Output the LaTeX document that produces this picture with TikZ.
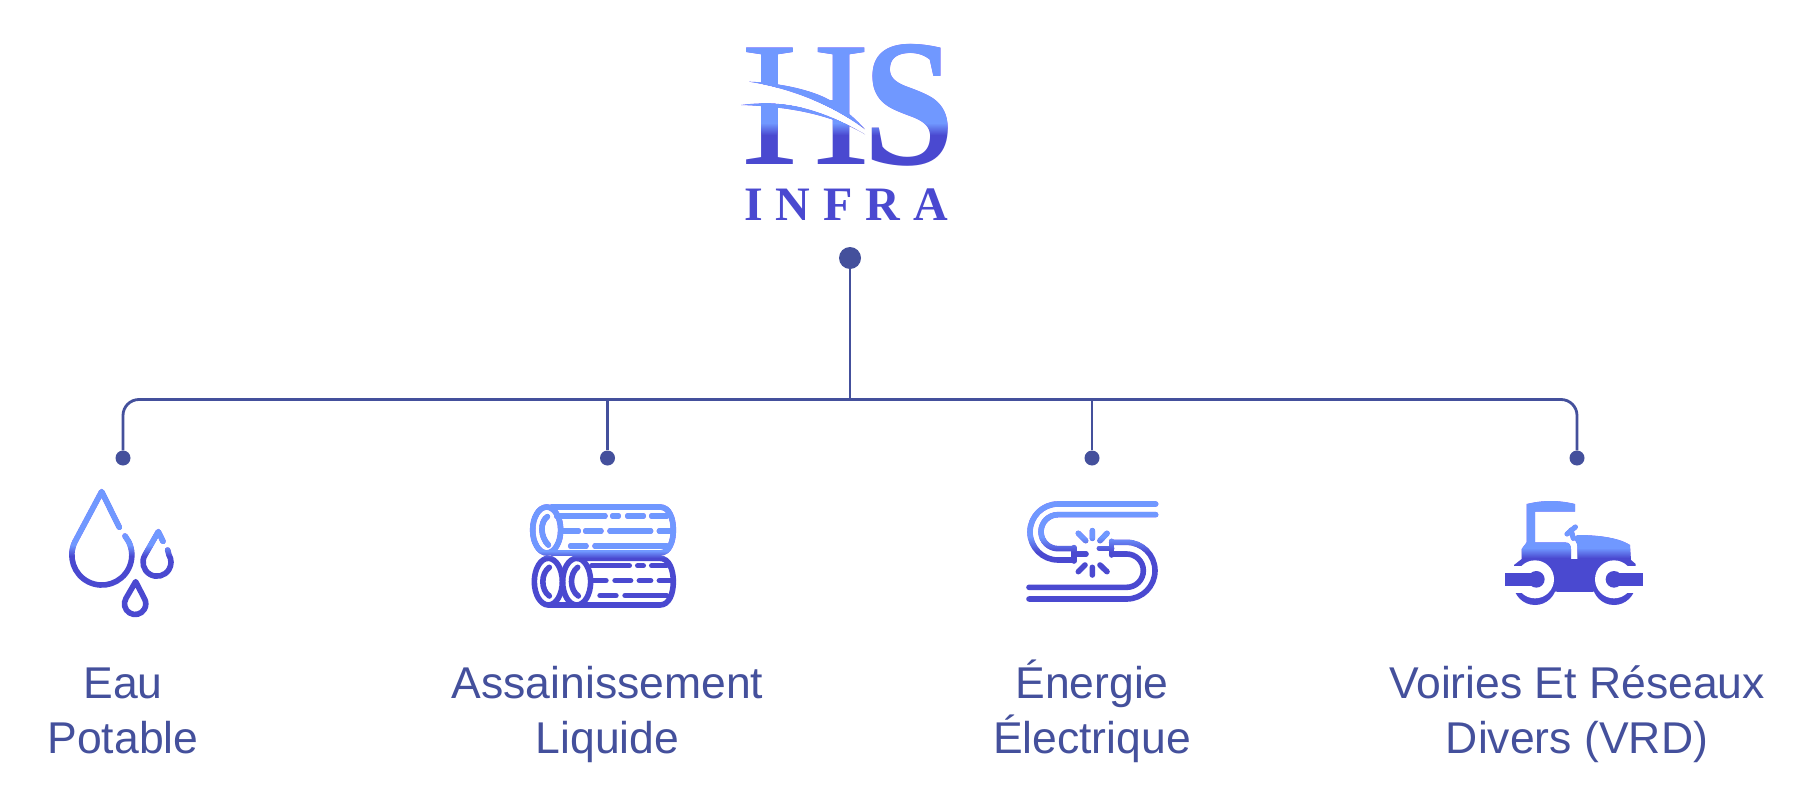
\documentclass[tikz,border=0pt]{standalone}
\usepackage{fontspec}
\setmainfont{Liberation Sans}
\newfontfamily\logoreg{Liberation Serif}
\newfontfamily\logobold{Liberation Serif}[BoldFont={Liberation Serif Bold},LetterSpace=27]
\definecolor{gradA}{HTML}{7098FF}
\definecolor{gradB}{HTML}{4A49D0}
\definecolor{inkblue}{HTML}{44509C}
\colorlet{curcol}{gradB}
\tikzset{
  dotnode/.style={circle,fill=inkblue,draw=none,inner sep=0pt},
  link/.style={draw=inkblue,line width=2.8pt},
  caption/.style={text=inkblue,align=center,inner sep=0pt,font=\fontsize{44.5}{55}\selectfont},
  iconline/.style={draw=curcol,line width=5.6pt,line cap=round,line join=round},
  dashline/.style={draw=curcol,line width=5.4pt,line cap=round},
  zoomed/.style={x=0.33333pt,y=-0.33333pt}
}
% light colour laid over the dark drawing: only what is darker than the overlay changes
\newcommand{\gradoverlay}[5]{%
  \begin{scope}[blend mode=lighten]
    \fill[gradA] (#1,#2) rectangle (#3,#4);
    \shade[top color=gradA,bottom color=gradB] (#1,#4) rectangle (#3,#5);
  \end{scope}
}
\begin{document}
\begin{tikzpicture}[x=1pt,y=-1pt]
  \useasboundingbox (0,0) rectangle (1800,800);
  \fill[white] (0,0) rectangle (1800,800);
  % logo
  \node[anchor=base west,inner sep=0pt,text=curcol] (logoH) at (741,164.5) {\logoreg\fontsize{178}{178}\selectfont H};
  \node[anchor=base west,inner sep=0pt,text=curcol] (logoS) at (863,164.5) {\logoreg\bfseries\fontsize{178}{178}\selectfont\scalebox{.927}[1.02]{S}};
  \begin{scope}[shift={(735,70)},zoomed]
    \fill[white] (18,105) -- (42,35) .. controls (200,60) and (320,125) .. (390,178) -- (390,193) .. controls (230,100) and (120,92) .. (18,105) -- cycle;
    \fill[curcol] (42,35) .. controls (130,38) and (240,60) .. (295,97) .. controls (330,118) and (365,150) .. (390,178) .. controls (320,125) and (200,60) .. (42,35) -- cycle;
    \fill[curcol] (18,105) .. controls (120,92) and (230,100) .. (390,193) .. controls (300,140) and (180,110) .. (18,105) -- cycle;
  \end{scope}
  \gradoverlay{735}{30}{960}{123}{135}
  \node[anchor=base west,inner sep=0pt,text=gradB] (infra) at (744,220) {\logobold\bfseries\fontsize{48}{48}\selectfont INFRA};
  % tree
  \node[dotnode,minimum size=22pt] (root) at (850,258) {};
  \coordinate (hub) at (850,399.5);
  \node[dotnode,minimum size=15pt] (d1) at (123,458) {};
  \node[dotnode,minimum size=15pt] (d2) at (607.5,458) {};
  \node[dotnode,minimum size=15pt] (d3) at (1092,458) {};
  \node[dotnode,minimum size=15pt] (d4) at (1577,458) {};
  \draw[link] (root) -- (hub);
  \draw[link,rounded corners=16pt] (d1) -- (d1|-hub) -- (d4|-hub) -- (d4);
  \draw[link] (d2) -- (d2|-hub);
  \draw[link] (d3) -- (d3|-hub);
  % drops
  \begin{scope}[shift={(40,470)},zoomed]
    \draw[iconline] (238,172) -- (185,65) -- (105,215) arc (206.5:-26.5:90) -- (255,198);
    \draw[iconline] (369,214) -- (355,185) -- (315,255) arc (211:-31:42) -- (383,240);
    \draw[iconline] (287,335) -- (258,385) arc (211:-31:32) -- cycle;
  \end{scope}
  \gradoverlay{60}{480}{190}{545}{556}
  % logs
  \begin{scope}[shift={(510,480)},zoomed]
    \draw[iconline] (110,150) ellipse (42 and 69);
    \draw[iconline] (125,81) -- (450,81) .. controls (478,81) and (490,115) .. (490,150) .. controls (490,185) and (478,219) .. (450,219) -- (125,219);
    \draw[iconline] (112,110) .. controls (90,125) and (90,170) .. (115,195);
    \draw[dashline] (140,108) -- (285,108) (308,108) -- (325,108) (353,108) -- (400,108) (425,108) -- (470,108);
    \draw[dashline] (160,153) -- (205,153) (227,153) -- (273,153) (300,153) -- (422,153) (448,153) -- (485,153);
    \draw[dashline] (182,198) -- (228,198) (255,198) -- (470,198);
    \draw[iconline] (115,305) ellipse (42 and 70);
    \draw[iconline] (200,305) ellipse (42 and 70);
    \draw[iconline] (200,235) -- (450,235) .. controls (478,235) and (490,270) .. (490,305) .. controls (490,340) and (478,375) .. (450,375) -- (115,375);
    \draw[iconline] (118,262) .. controls (92,280) and (92,330) .. (118,348);
    \draw[iconline] (203,262) .. controls (178,280) and (178,330) .. (205,348);
    \draw[dashline] (245,257) -- (358,257) (383,257) -- (400,257) (425,257) -- (470,257);
    \draw[dashline] (250,302) -- (288,302) (315,302) -- (362,302) (388,302) -- (422,302) (448,302) -- (490,302);
    \draw[dashline] (270,347) -- (318,347) (345,347) -- (470,347);
  \end{scope}
  \gradoverlay{520}{490}{690}{551}{558}
  % cable
  \begin{scope}[shift={(1010,480)},zoomed]
    \draw[iconline] (437,72) -- (144,72) arc (-90:-270:84) -- (190,240);
    \draw[iconline] (437,104) -- (144,104) arc (-90:-270:51) -- (190,206);
    \draw[iconline] (192,203) -- (192,243) (192,222) -- (228,222);
    \draw[iconline] (305,187) -- (350,187) arc (-90:90:85) -- (57,357);
    \draw[iconline] (305,222) -- (350,222) arc (-90:90:50) -- (57,322);
    \draw[iconline] (305,184) -- (305,225) (268,205) -- (305,205);
    \draw[iconline] (247,152) -- (247,175) (205,160) -- (227,182) (291,160) -- (270,182);
    \draw[iconline] (205,275) -- (225,255) (247,262) -- (247,285) (291,275) -- (270,255);
  \end{scope}
  \gradoverlay{1020}{490}{1170}{537}{552}
  % roller
  \begin{scope}[shift={(1490,480)},zoomed]
    \fill[curcol] (110,72) .. controls (160,60) and (205,60) .. (255,72) -- (255,95) -- (135,95) -- (135,190) -- (110,190) -- cycle;
    \fill[curcol] (110,187) -- (225,187) .. controls (238,187) and (243,195) .. (243,208) -- (243,237) -- (262,237) -- (262,200) .. controls (262,188) and (255,180) .. (250,175) -- (262,165) .. controls (320,165) and (385,172) .. (420,195) -- (423,240) -- (437,252) -- (437,258) -- (372,258) -- (372,335) -- (135,335) -- (135,258) -- (72,258) -- (72,255) -- (95,237) -- (95,207) -- cycle;
    \draw[curcol,line width=5pt,line cap=round] (231,162) -- (256,141) (243,150) -- (250,175);
    \fill[curcol] (135,310) circle (65);
    \fill[curcol] (372,310) circle (65);
    \fill[curcol] (200,258) rectangle (310,335);
    \fill[white] (135,298) circle (57);
    \fill[white] (372,298) circle (57);
    \fill[white] (40,258) rectangle (135,338);
    \fill[white] (372,258) rectangle (470,338);
    \fill[curcol] (45,278) rectangle (139,318);
    \fill[curcol] (139,298) circle (25);
    \fill[curcol] (372,278) rectangle (458,318);
    \fill[curcol] (372,298) circle (25);
  \end{scope}
  \gradoverlay{1500}{490}{1660}{548}{558}
  % captions
  \node[caption,anchor=base] (c1) at (123,753) {Eau\\Potable};
  \node[caption,anchor=base] (c2) at (607.5,753) {Assainissement\\Liquide};
  \node[caption,anchor=base] (c3) at (1092,753) {Énergie\\Électrique};
  \node[caption,anchor=base] (c4) at (1577,753) {Voiries Et Réseaux\\Divers (VRD)};
\end{tikzpicture}
\end{document}
